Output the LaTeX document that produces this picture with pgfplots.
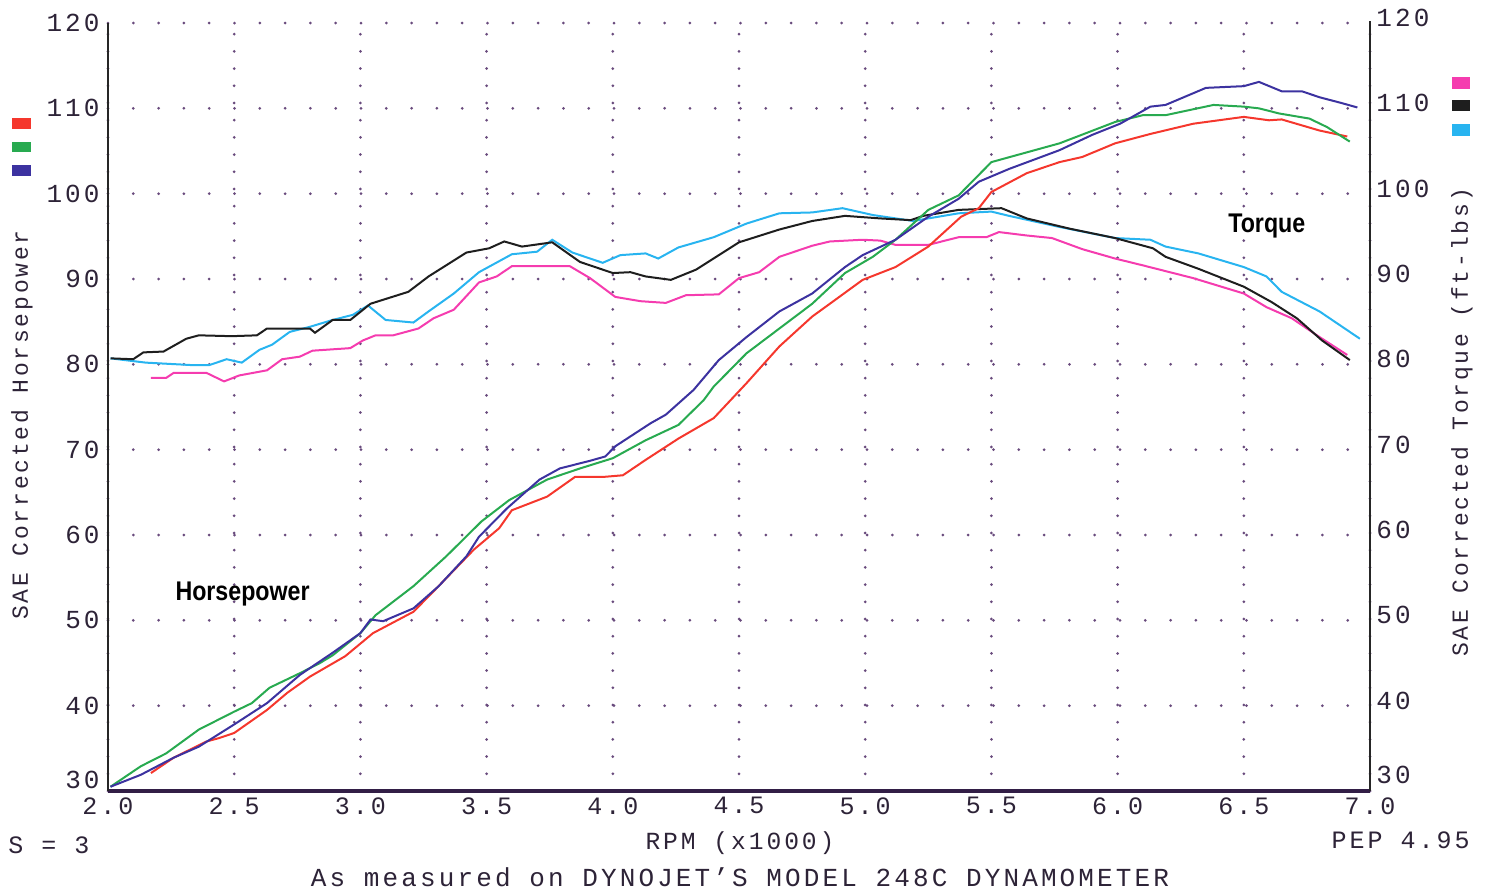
\documentclass[border=0pt]{standalone}
\usepackage{fontspec}
\setmainfont[LetterSpace=12]{Liberation Mono}
\newfontfamily\hpfont{Liberation Sans}
\usepackage{graphicx}
\usepackage{pgfplots}
\pgfplotsset{compat=1.18}
\usepackage{pgfplotstable}

\definecolor{hpred}{RGB}{245,55,45}
\definecolor{hpgreen}{RGB}{40,170,80}
\definecolor{hpblue}{RGB}{60,50,160}
\definecolor{tqpink}{RGB}{245,60,175}
\definecolor{tqblack}{RGB}{30,30,30}
\definecolor{tqcyan}{RGB}{40,180,240}
\definecolor{gridc}{RGB}{105,75,125}
\definecolor{txt}{RGB}{45,35,55}

% Horsepower (red)
\pgfplotstableread{
x y
2.17 32.1
2.26 33.9
2.39 35.8
2.44 36.2
2.50 36.8
2.63 39.5
2.71 41.5
2.80 43.4
2.94 45.8
3.05 48.5
3.21 51.0
3.29 53.4
3.45 58.3
3.55 60.8
3.60 62.9
3.74 64.5
3.85 66.8
3.96 66.8
4.04 67.0
4.13 68.8
4.26 71.3
4.40 73.7
4.53 77.8
4.66 82.1
4.79 85.6
4.86 87.1
4.99 89.9
5.12 91.4
5.25 93.8
5.38 97.3
5.45 98.3
5.50 100.2
5.64 102.4
5.77 103.7
5.86 104.3
5.99 105.9
6.13 107.0
6.30 108.2
6.50 109.0
6.60 108.6
6.65 108.7
6.80 107.4
6.91 106.7
}\hpA
% Horsepower (green)
\pgfplotstableread{
x y
2.01 30.5
2.13 32.9
2.23 34.4
2.36 37.2
2.50 39.3
2.57 40.3
2.64 42.1
2.76 43.8
2.84 45.0
2.89 45.9
3.00 48.5
3.06 50.6
3.21 54.0
3.34 57.5
3.48 61.6
3.59 64.1
3.74 66.5
3.87 67.8
4.00 69.0
4.13 71.1
4.26 72.9
4.36 75.8
4.40 77.4
4.53 81.3
4.66 84.2
4.79 87.1
4.92 90.7
5.03 92.6
5.12 94.6
5.25 98.1
5.37 99.8
5.50 103.7
5.77 105.9
5.99 108.4
6.10 109.2
6.19 109.2
6.38 110.4
6.50 110.2
6.56 110.0
6.64 109.4
6.76 108.8
6.83 107.8
6.92 106.1
}\hpB
% Horsepower (blue)
\pgfplotstableread{
x y
2.01 30.5
2.13 31.9
2.26 33.9
2.36 35.2
2.50 37.8
2.63 40.3
2.76 43.6
2.89 46.2
3.00 48.5
3.04 50.1
3.09 49.9
3.21 51.4
3.31 54.0
3.42 57.5
3.47 59.8
3.58 63.1
3.71 66.5
3.79 67.8
3.91 68.7
3.97 69.2
4.01 70.4
4.15 73.1
4.21 74.1
4.32 77.0
4.42 80.5
4.53 83.2
4.66 86.2
4.79 88.3
4.92 91.4
4.99 92.8
5.12 94.6
5.25 97.3
5.37 99.4
5.45 101.4
5.57 102.9
5.77 105.1
5.90 106.9
6.01 108.2
6.13 110.2
6.19 110.4
6.35 112.4
6.50 112.6
6.56 113.1
6.65 112.0
6.73 112.0
6.80 111.3
6.89 110.6
6.95 110.1
}\hpC
% Torque (pink)
\pgfplotstableread{
x y
2.17 78.4
2.23 78.4
2.26 79.0
2.39 79.0
2.46 78.0
2.52 78.7
2.63 79.3
2.69 80.6
2.76 80.9
2.81 81.6
2.96 81.9
3.01 82.8
3.06 83.4
3.13 83.4
3.23 84.2
3.29 85.4
3.37 86.4
3.47 89.6
3.54 90.3
3.60 91.5
3.83 91.5
3.91 90.1
4.01 87.9
4.11 87.4
4.21 87.2
4.29 88.1
4.42 88.2
4.50 90.1
4.58 90.8
4.66 92.6
4.79 93.9
4.86 94.4
4.99 94.6
5.06 94.5
5.12 94.0
5.25 94.0
5.37 94.9
5.48 94.9
5.53 95.5
5.64 95.1
5.74 94.8
5.86 93.5
5.99 92.4
6.10 91.6
6.30 90.1
6.50 88.3
6.59 86.7
6.69 85.4
6.80 83.2
6.91 81.1
}\tqA
% Torque (black)
\pgfplotstableread{
x y
2.01 80.7
2.10 80.6
2.14 81.4
2.22 81.5
2.31 83.0
2.36 83.4
2.49 83.3
2.59 83.4
2.63 84.2
2.80 84.2
2.82 83.7
2.89 85.2
2.96 85.2
3.04 87.1
3.19 88.5
3.27 90.3
3.42 93.1
3.51 93.6
3.57 94.4
3.64 93.8
3.76 94.3
3.87 92.0
4.00 90.7
4.07 90.8
4.13 90.3
4.23 89.9
4.33 91.1
4.50 94.3
4.66 95.8
4.79 96.8
4.92 97.4
5.06 97.1
5.18 96.9
5.23 97.4
5.37 98.1
5.54 98.3
5.64 97.1
5.81 95.9
5.99 94.8
6.14 93.6
6.19 92.6
6.32 91.2
6.50 89.1
6.61 87.3
6.71 85.4
6.81 82.8
6.92 80.5
}\tqB
% Torque (cyan)
\pgfplotstableread{
x y
2.01 80.7
2.15 80.2
2.34 79.9
2.40 79.9
2.47 80.6
2.53 80.2
2.60 81.7
2.65 82.3
2.72 83.8
2.80 84.4
2.89 85.2
2.97 85.8
3.03 86.9
3.10 85.2
3.21 84.9
3.27 86.2
3.37 88.3
3.47 90.8
3.60 92.9
3.70 93.2
3.76 94.6
3.84 93.1
3.96 91.9
4.03 92.8
4.13 93.0
4.18 92.4
4.26 93.7
4.40 94.9
4.53 96.5
4.66 97.7
4.79 97.8
4.91 98.3
5.03 97.5
5.19 96.8
5.37 97.7
5.50 97.9
5.57 97.4
5.77 96.1
5.99 94.8
6.13 94.6
6.19 93.8
6.32 93.0
6.50 91.4
6.59 90.3
6.65 88.5
6.80 86.2
6.96 83.0
}\tqC

\begin{document}
\begin{tikzpicture}
\path[use as bounding box] (-54bp,-51.5bp) rectangle (690bp,395.5bp);
\begin{axis}[
  at={(0,0)}, anchor=south west,
  width=631bp, height=384bp, scale only axis,
  xmin=2, xmax=7, ymin=30, ymax=120,
  axis line style={draw=none},
  xtick={2,2.5,3,3.5,4,4.5,5,5.5,6,6.5,7},
  ytick={40,50,60,70,80,90,100,110,120},
  extra y ticks={30},
  extra y tick style={grid=none, yticklabel style={yshift=5.5bp}},
  xtick pos=bottom, ytick pos=left,
  major tick length=0pt,
  xmajorgrids, ymajorgrids,
  major x grid style={line width=1.5bp, dash pattern=on 0pt off 8.6bp, line cap=round, color=gridc},
  major y grid style={line width=1.5bp, dash pattern=on 0pt off 12.65bp, line cap=round, color=gridc},
  /pgf/number format/assume math mode=true,
  xticklabel style={/pgf/number format/.cd, fixed, fixed zerofill, precision=1, /tikz/.cd,
     font=\fontsize{12.5bp}{14bp}\selectfont, text=txt, inner sep=2bp, yshift=-1bp},
  yticklabel style={font=\fontsize{13bp}{15bp}\selectfont, text=txt, inner sep=2bp, xshift=-2bp},
  clip=false,
]
\addplot[tqpink, line width=1bp] table[x=x,y=y]{\tqA};
\addplot[tqcyan, line width=1bp] table[x=x,y=y]{\tqC};
\addplot[tqblack, line width=1bp] table[x=x,y=y]{\tqB};
\addplot[hpred, line width=1bp] table[x=x,y=y]{\hpA};
\addplot[hpgreen, line width=1bp] table[x=x,y=y]{\hpB};
\addplot[hpblue, line width=1bp] table[x=x,y=y]{\hpC};
\end{axis}
\begin{axis}[
  at={(0,0)}, anchor=south west,
  width=631bp, height=384bp, scale only axis,
  xmin=2, xmax=7, ymin=30, ymax=120,
  axis line style={draw=none},
  xtick=\empty,
  ytick={40,50,60,70,80,90,100,110,120},
  extra y ticks={30},
  extra y tick style={yticklabel style={yshift=5.5bp}},
  ytick pos=right,
  major tick length=0pt,
  /pgf/number format/assume math mode=true,
  yticklabel style={font=\fontsize{13bp}{15bp}\selectfont, text=txt, inner sep=2bp, xshift=1bp, yshift=2.5bp},
]
\end{axis}
% axis lines
\draw[line width=1.6bp, color={rgb,255:red,50;green,30;blue,70}] (0,0) -- (631bp,0);
\draw[line width=1.1bp, color=black!85] (0,0) -- (0,384bp);
\draw[line width=0.8bp, color=black!85] (631bp,0) -- (631bp,385bp);
% texts
\node[rotate=90, text=txt, font=\fontsize{11.5bp}{13bp}\selectfont] at (-43bp,183bp) {SAE Corrected Horsepower};
\node[rotate=90, text=txt, font=\fontsize{11.5bp}{13bp}\selectfont] at (677bp,184.5bp) {SAE Corrected Torque (ft-lbs)};
\node[text=txt, font=\fontsize{12.3bp}{14bp}\selectfont] at (316bp,-26bp) {RPM (x1000)};
\node[text=txt, font=\fontsize{13bp}{14bp}\selectfont] at (316bp,-43bp) {As measured on DYNOJET'S MODEL 248C DYNAMOMETER};
\node[text=txt, anchor=west, inner sep=0pt, font=\fontsize{12.5bp}{14bp}\selectfont] at (-50bp,-27bp) {S = 3};
\node[text=txt, anchor=east, inner sep=0pt, font=\fontsize{12.5bp}{14bp}\selectfont] at (681bp,-24.5bp) {PEP 4.95};
\node[font=\hpfont\bfseries\fontsize{13.5bp}{15bp}\selectfont] at (67.3bp,98.5bp) {\scalebox{0.86}[1]{Horsepower}};
\node[font=\hpfont\bfseries\fontsize{13.5bp}{15bp}\selectfont] at (579.4bp,282.5bp) {\scalebox{0.86}[1]{Torque}};
% colour keys
\fill[hpred] (-48.2bp,331bp) rectangle (-38.6bp,336.5bp);
\fill[hpgreen] (-48.2bp,319.5bp) rectangle (-38.6bp,324.5bp);
\fill[hpblue] (-48.2bp,307.5bp) rectangle (-38.6bp,313bp);
\fill[tqpink] (671.9bp,351bp) rectangle (680.9bp,357bp);
\fill[tqblack] (671.9bp,340bp) rectangle (680.9bp,345.5bp);
\fill[tqcyan] (671.9bp,327.5bp) rectangle (680.9bp,333.5bp);
\end{tikzpicture}
\end{document}
